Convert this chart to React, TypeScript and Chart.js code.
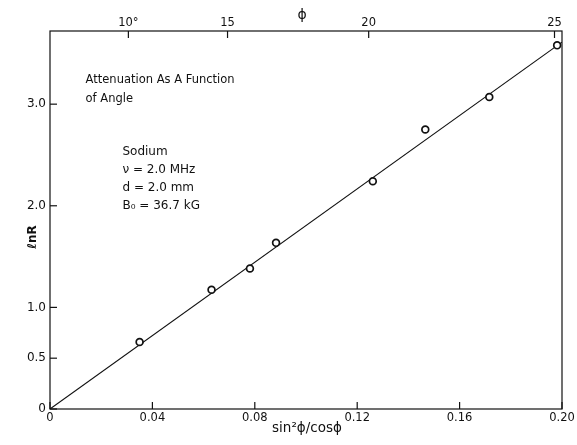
import React, { useEffect, useRef } from "react";
import { Chart, registerables } from "chart.js";

Chart.register(...registerables);

// ---- data ----
const xValues = [0.035, 0.0631, 0.0781, 0.0883, 0.1261, 0.1466, 0.1716, 0.1981]; // sin^2(phi)/cos(phi)
const lnR = [0.659, 1.173, 1.383, 1.635, 2.242, 2.75, 3.071, 3.579];
const fitX = [0, 0.2];
const fitY = [0, 3.61];

const xTickValues = [0, 0.04, 0.08, 0.12, 0.16, 0.2];
const xTickLabels = ["0", "0.04", "0.08", "0.12", "0.16", "0.20"];
const yTickValues = [0, 0.5, 1, 2, 3];
const yTickLabels = ["0", "0.5", "1.0", "2.0", "3.0"];
const phiDegrees = [10, 15, 20, 25];
const phiLabels = ["10°", "15", "20", "25"];

const titleLines = ["Attenuation As A Function", "of Angle"];
const paramLines = ["Sodium", "ν = 2.0 MHz", "d = 2.0 mm", "B₀ = 36.7 kG"];

const FONT = "'DejaVu Sans', sans-serif";
const INK = "#111111";

const phiToX = (deg: number) => {
  const r = (deg * Math.PI) / 180;
  return (Math.sin(r) * Math.sin(r)) / Math.cos(r);
};

const decorPlugin = {
  id: "decor",
  afterDraw(chart: any) {
    const { ctx, chartArea, scales } = chart;
    const { left, right, top, bottom } = chartArea;
    ctx.save();
    ctx.strokeStyle = INK;
    ctx.lineWidth = 1.2;
    ctx.strokeRect(left, top, right - left, bottom - top);
    const L = 7;
    const seg = (x1: number, y1: number, x2: number, y2: number) => {
      ctx.beginPath();
      ctx.moveTo(x1, y1);
      ctx.lineTo(x2, y2);
      ctx.stroke();
    };
    scales.x.ticks.forEach((t: any) => {
      const p = scales.x.getPixelForValue(t.value);
      seg(p, bottom, p, bottom - L);
    });
    scales.xTop.ticks.forEach((t: any) => {
      const p = scales.xTop.getPixelForValue(t.value);
      seg(p, top, p, top + L);
    });
    scales.y.ticks.forEach((t: any) => {
      const p = scales.y.getPixelForValue(t.value);
      seg(left, p, left + L, p);
    });

    ctx.fillStyle = INK;
    ctx.textBaseline = "alphabetic";
    ctx.textAlign = "left";
    // annotation block
    ctx.font = `11.5px ${FONT}`;
    const ax = scales.x.getPixelForValue(0.0139);
    titleLines.forEach((s, i) => {
      ctx.fillText(s, ax, scales.y.getPixelForValue(3.205 - i * 0.183));
    });
    ctx.font = `12px ${FONT}`;
    const px = scales.x.getPixelForValue(0.0283);
    paramLines.forEach((s, i) => {
      ctx.fillText(s, px, scales.y.getPixelForValue(2.496 - i * 0.177));
    });

    // axis titles
    ctx.textAlign = "center";
    ctx.textBaseline = "middle";
    ctx.font = `14px ${FONT}`;
    ctx.fillText("ϕ", (left + right) / 2 - 4, 15);
    ctx.font = `13.5px ${FONT}`;
    ctx.fillText("sin²ϕ/cosϕ", (left + right) / 2 + 1, 428);
    ctx.save();
    ctx.translate(33, 237);
    ctx.rotate(-Math.PI / 2);
    ctx.font = `bold 12px ${FONT}`;
    ctx.fillText("ℓnR", 0, 0);
    ctx.restore();
    ctx.restore();
  },
};

export default function App() {
  const ref = useRef<HTMLCanvasElement | null>(null);
  useEffect(() => {
    document.body.style.margin = "0";
    const canvas = ref.current!;
    const chart = new Chart(canvas, {
      type: "scatter",
      data: {
        datasets: [
          {
            label: "fit",
            data: fitX.map((x, i) => ({ x, y: fitY[i] })),
            showLine: true,
            borderColor: INK,
            borderWidth: 1.1,
            pointRadius: 0,
            order: 2,
          },
          {
            label: "ln R",
            data: xValues.map((x, i) => ({ x, y: lnR[i] })),
            pointRadius: 3.4,
            pointBorderWidth: 1.7,
            pointBorderColor: INK,
            pointBackgroundColor: "#ffffff",
            order: 1,
          },
        ],
      },
      options: {
        responsive: false,
        animation: false,
        devicePixelRatio: 1,
        layout: { padding: { left: 0, right: 15, top: 0, bottom: 0 } },
        plugins: { legend: { display: false }, tooltip: { enabled: false } },
        scales: {
          x: {
            type: "linear",
            position: "bottom",
            min: 0,
            max: 0.2,
            grid: { display: false, drawTicks: false },
            border: { display: false },
            afterBuildTicks: (s: any) => {
              s.ticks = xTickValues.map((v) => ({ value: v }));
            },
            afterFit: (s: any) => {
              s.height = 36;
            },
            ticks: {
              autoSkip: false,
              maxRotation: 0,
              padding: 2,
              color: INK,
              font: { family: FONT, size: 11.5 },
              callback: (_v: any, i: number) => xTickLabels[i],
            },
          },
          xTop: {
            type: "linear",
            position: "top",
            display: true,
            min: 0,
            max: 0.2,
            grid: { display: false, drawTicks: false },
            border: { display: false },
            afterBuildTicks: (s: any) => {
              s.ticks = phiDegrees.map((d) => ({ value: phiToX(d) }));
            },
            afterFit: (s: any) => {
              s.height = 31;
            },
            ticks: {
              autoSkip: false,
              maxRotation: 0,
              padding: 1,
              color: INK,
              font: { family: FONT, size: 11.5 },
              callback: (_v: any, i: number) => phiLabels[i],
            },
          },
          y: {
            type: "linear",
            min: 0,
            max: 3.72,
            grid: { display: false, drawTicks: false },
            border: { display: false },
            afterBuildTicks: (s: any) => {
              s.ticks = yTickValues.map((v) => ({ value: v }));
            },
            afterFit: (s: any) => {
              s.width = 50;
            },
            ticks: {
              autoSkip: false,
              padding: 4,
              color: INK,
              font: { family: FONT, size: 12 },
              callback: (_v: any, i: number) => yTickLabels[i],
            },
          },
        },
      },
      plugins: [decorPlugin],
    });
    return () => chart.destroy();
  }, []);
  return (
    <canvas
      ref={ref}
      width={577}
      height={445}
      style={{ display: "block", width: 577, height: 445, background: "#fff" }}
    />
  );
}
